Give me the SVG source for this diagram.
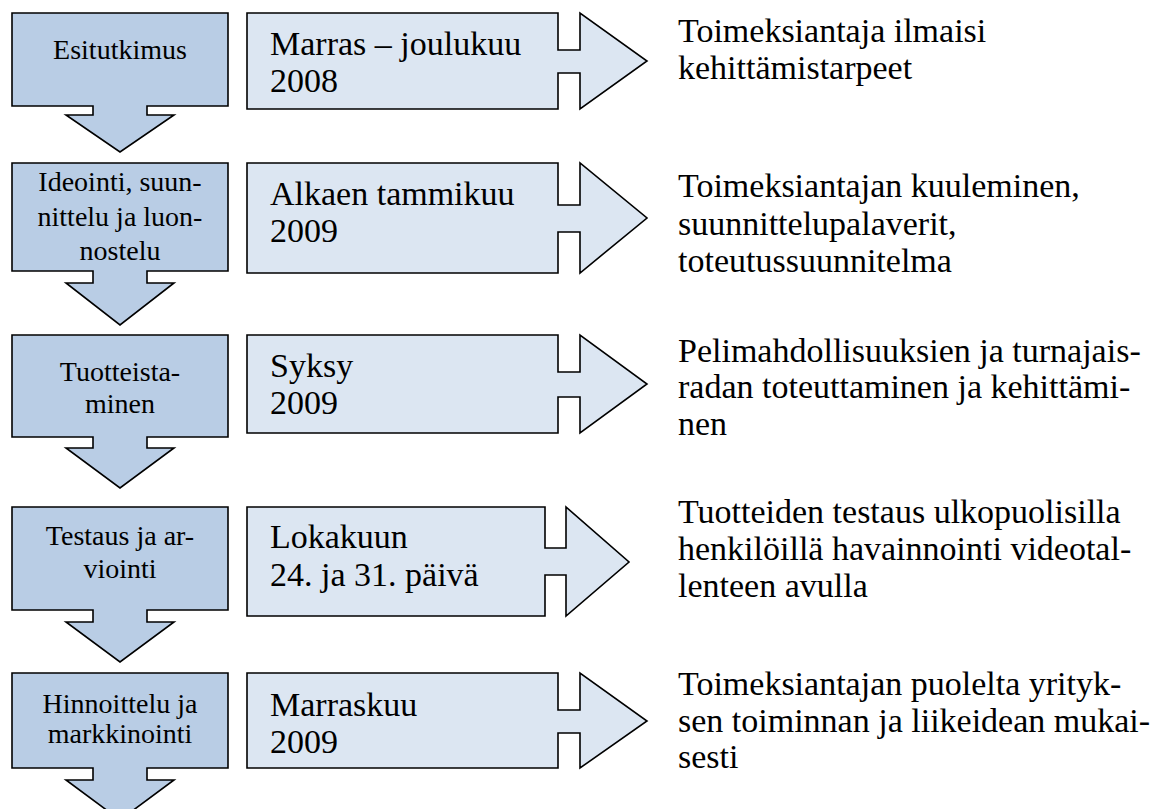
<svg xmlns="http://www.w3.org/2000/svg" width="1165" height="809" viewBox="0 0 1165 809">
<style>
.step{fill:#b9cde5;stroke:#000;stroke-width:1.6;stroke-linejoin:miter}
.time{fill:#dce6f2;stroke:#000;stroke-width:1.6;stroke-linejoin:miter}
.lt{font-family:"Liberation Serif","Times New Roman",serif;font-size:28px;fill:#000;text-anchor:middle}
.mt{font-family:"Liberation Serif","Times New Roman",serif;font-size:34px;fill:#000}
.rt{font-family:"Liberation Serif","Times New Roman",serif;font-size:34px;fill:#000}
</style>
<rect width="1165" height="809" fill="#fff"/>
<g id="connectors"/>

<g id="step1">
<path class="step" d="M12,13 H228 V106 H147 V115 H174 L120,152 L66,115 H93 V106 H12 Z"/>
<text class="lt" x="120" y="59">Esitutkimus</text>
</g>
<g id="time1">
<path class="time" d="M247,13 H558 V50 H580 V13 L647,61 L580,109 V73 H558 V109 H247 Z"/>
<text class="mt" x="270" y="55">Marras – joulukuu</text>
<text class="mt" x="270" y="92">2008</text>
</g>
<g id="desc1">
<text class="rt" x="678" y="42">Toimeksiantaja ilmaisi</text>
<text class="rt" x="678" y="79">kehittämistarpeet</text>
</g>

<g id="step2">
<path class="step" d="M12,163 H228 V271 H147 V283 H174 L120,325 L66,283 H93 V271 H12 Z"/>
<text class="lt" x="120" y="191">Ideointi, suun-</text>
<text class="lt" x="120" y="226">nittelu ja luon-</text>
<text class="lt" x="120" y="260">nostelu</text>
</g>
<g id="time2">
<path class="time" d="M247,163 H558 V205 H580 V163 L647,218 L580,273 V232 H558 V273 H247 Z"/>
<text class="mt" x="270" y="205">Alkaen tammikuu</text>
<text class="mt" x="270" y="242">2009</text>
</g>
<g id="desc2">
<text class="rt" x="678" y="197">Toimeksiantajan kuuleminen,</text>
<text class="rt" x="678" y="235">suunnittelupalaverit,</text>
<text class="rt" x="678" y="272">toteutussuunnitelma</text>
</g>

<g id="step3">
<path class="step" d="M12,335 H228 V437 H147 V448 H174 L120,488 L66,448 H93 V437 H12 Z"/>
<text class="lt" x="120" y="381">Tuotteista-</text>
<text class="lt" x="120" y="413">minen</text>
</g>
<g id="time3">
<path class="time" d="M247,335 H558 V372 H580 V335 L647,384 L580,433 V397 H558 V433 H247 Z"/>
<text class="mt" x="270" y="377">Syksy</text>
<text class="mt" x="270" y="414">2009</text>
</g>
<g id="desc3">
<text class="rt" x="678" y="362">Pelimahdollisuuksien ja turnajais-</text>
<text class="rt" x="678" y="398">radan toteuttaminen ja kehittämi-</text>
<text class="rt" x="678" y="435">nen</text>
</g>

<g id="step4">
<path class="step" d="M12,507 H228 V610 H147 V622 H174 L120,662 L66,622 H93 V610 H12 Z"/>
<text class="lt" x="120" y="545">Testaus ja ar-</text>
<text class="lt" x="120" y="578">viointi</text>
</g>
<g id="time4">
<path class="time" d="M247,507 H545 V548 H566 V507 L629,562 L566,616 V575 H545 V616 H247 Z"/>
<text class="mt" x="270" y="548">Lokakuun</text>
<text class="mt" x="270" y="586">24. ja 31. päivä</text>
</g>
<g id="desc4">
<text class="rt" x="678" y="523">Tuotteiden testaus ulkopuolisilla</text>
<text class="rt" x="678" y="560">henkilöillä havainnointi videotal-</text>
<text class="rt" x="678" y="597">lenteen avulla</text>
</g>

<g id="step5">
<path class="step" d="M12,673 H228 V768 H147 V780 H174 L120,820 L66,780 H93 V768 H12 Z"/>
<text class="lt" x="120" y="713">Hinnoittelu ja</text>
<text class="lt" x="120" y="743">markkinointi</text>
</g>
<g id="time5">
<path class="time" d="M247,673 H558 V710 H580 V673 L647,721 L580,768 V733 H558 V768 H247 Z"/>
<text class="mt" x="270" y="716">Marraskuu</text>
<text class="mt" x="270" y="753">2009</text>
</g>
<g id="desc5">
<text class="rt" x="678" y="695">Toimeksiantajan puolelta yrityk-</text>
<text class="rt" x="678" y="732">sen toiminnan ja liikeidean mukai-</text>
<text class="rt" x="678" y="768">sesti</text>
</g>
</svg>
